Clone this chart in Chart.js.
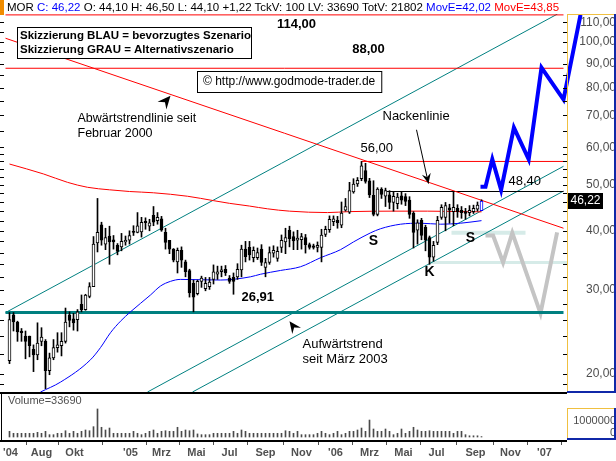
<!DOCTYPE html>
<html>
<head>
<meta charset="utf-8">
<script src="https://cdn.jsdelivr.net/npm/chart.js@4.4.1/dist/chart.umd.min.js"></script>
<style>
  html, body { margin: 0; padding: 0; background: #fff; }
  #wrap { position: relative; width: 616px; height: 461px; overflow: hidden; }
  #c { position: absolute; left: 0; top: 0; }
  #mark { position: absolute; left: 0; top: 0; width: 4px; height: 15px; background: #f08c00; }
  #head { position: absolute; left: 7px; top: 1px; font: 11.5px "Liberation Sans", Arial, sans-serif; white-space: nowrap; color: #000; }
  .b { color: #0000ff; } .r { color: #ff0000; }
</style>
</head>
<body>
<div id="wrap">
  <canvas id="c" width="616" height="461"></canvas>
  <div id="mark"></div>
  <div id="head">MOR <span class="b">C: 46,22</span> O: 44,10 H: 46,50 L: 44,10 +1,22 TckV: 100 LV: 33690 TotV: 21802 <span class="b">MovE=42,02</span> <span class="r">MovE=43,85</span></div>
</div>
<script>
// weekly candles, Jun 2004 .. Sep 2006 (index 0 = first week)
const opens = [21.3, 26.6, 25.7, 24.6, 24.0, 24.0, 22.5, 21.9, 23.4, 23.4,
  20.3, 21.6, 22.7, 22.9, 23.4, 26.6, 26.1, 26.0, 28.0, 27.3,
  29.1, 30.5, 37.7, 41.2, 37.5, 39.0, 38.3, 37.3, 37.0, 37.9,
  38.2, 39.9, 39.7, 39.8, 41.9, 40.9, 43.1, 42.0, 42.4, 39.7,
  38.2, 36.6, 34.4, 36.4, 34.4, 33.0, 31.0, 29.5, 31.3, 30.2,
  30.5, 31.6, 32.4, 32.8, 33.2, 31.8, 31.9, 32.0, 33.1, 36.6,
  36.9, 35.1, 35.1, 36.6, 33.5, 34.3, 35.9, 35.0, 36.9, 37.9,
  40.1, 38.9, 38.2, 38.3, 38.7, 37.4, 37.2, 36.9, 36.9, 39.3,
  40.2, 41.8, 42.1, 41.1, 44.2, 43.8, 48.3, 50.2, 51.5, 53.6,
  51.0, 47.5, 43.3, 49.0, 47.3, 47.6, 45.9, 45.6, 47.4, 47.2,
  46.4, 43.6, 40.1, 42.1, 40.7, 38.7, 35.2, 37.8, 42.7, 42.7,
  44.7, 43.9, 44.6, 44.2, 43.9, 43.7, 43.9, 44.4, 44.1];
const highs = [26.9, 26.9, 25.8, 24.9, 24.6, 24.0, 23.0, 25.6, 25.0, 23.6,
  22.1, 23.6, 24.4, 24.4, 27.5, 27.0, 26.8, 27.3, 29.3, 29.4,
  31.1, 38.9, 46.8, 41.7, 40.5, 40.9, 39.1, 37.6, 39.5, 39.0,
  40.0, 41.0, 43.7, 42.7, 42.6, 42.3, 45.0, 43.7, 42.9, 40.5,
  38.2, 36.7, 36.8, 37.0, 34.7, 33.2, 31.5, 31.5, 32.1, 31.9,
  31.9, 33.9, 33.7, 33.7, 33.8, 32.2, 32.6, 34.1, 37.3, 38.0,
  38.0, 37.0, 36.8, 37.4, 35.0, 37.0, 37.2, 37.0, 39.2, 40.5,
  40.9, 39.8, 40.1, 39.5, 39.3, 37.7, 37.5, 37.9, 40.3, 40.9,
  43.0, 43.0, 42.9, 46.0, 46.8, 50.6, 51.5, 51.8, 56.0, 55.5,
  51.6, 51.0, 49.3, 49.3, 49.2, 48.6, 48.3, 48.0, 48.4, 47.9,
  47.2, 43.9, 42.2, 42.5, 41.1, 39.0, 38.0, 42.9, 45.4, 45.9,
  45.5, 48.4, 45.4, 45.0, 44.6, 45.2, 45.3, 46.0, 46.5];
const lows = [21.0, 24.6, 23.4, 23.4, 21.5, 21.7, 20.2, 21.4, 22.9, 18.6,
  19.9, 21.4, 22.2, 21.8, 23.2, 25.1, 24.7, 24.6, 27.0, 27.2,
  28.9, 30.5, 36.1, 37.3, 36.5, 34.0, 36.6, 35.6, 36.3, 37.3,
  37.5, 39.1, 39.6, 38.8, 40.3, 40.0, 41.0, 41.3, 39.9, 36.6,
  35.8, 34.4, 32.6, 33.5, 32.0, 29.0, 27.0, 29.3, 30.4, 29.9,
  30.1, 30.9, 31.6, 32.0, 32.2, 31.0, 29.4, 31.6, 32.0, 34.4,
  34.7, 34.4, 34.8, 33.8, 32.0, 34.0, 35.2, 34.5, 36.0, 35.8,
  37.0, 36.5, 36.5, 36.6, 35.9, 36.6, 36.6, 36.1, 34.4, 38.9,
  39.7, 41.0, 40.5, 40.6, 44.0, 43.5, 48.0, 49.6, 51.0, 50.4,
  47.0, 43.0, 43.0, 46.8, 45.0, 44.5, 44.0, 44.5, 45.5, 45.2,
  42.5, 36.8, 37.5, 38.3, 36.3, 34.0, 34.5, 37.4, 42.3, 40.0,
  41.5, 41.0, 42.7, 42.5, 42.3, 43.0, 43.5, 44.0, 44.1];
const closes = [26.0, 25.7, 24.5, 24.4, 23.4, 22.9, 21.9, 23.2, 23.9, 20.3,
  21.6, 22.7, 23.0, 23.4, 25.7, 25.9, 25.6, 27.0, 27.3, 29.3,
  30.5, 37.5, 39.7, 38.2, 38.7, 37.9, 37.9, 36.2, 38.0, 38.2,
  39.1, 39.7, 41.0, 41.7, 41.6, 41.6, 41.7, 42.7, 40.1, 37.8,
  36.6, 34.7, 36.4, 34.7, 32.8, 29.6, 29.0, 31.3, 31.8, 31.0,
  31.2, 32.8, 32.8, 33.1, 32.6, 31.3, 31.3, 33.2, 36.6, 35.3,
  35.6, 36.4, 36.0, 34.3, 34.3, 36.0, 36.4, 36.2, 38.2, 38.7,
  38.5, 38.1, 38.6, 38.9, 37.4, 36.9, 36.9, 37.3, 39.2, 40.3,
  42.3, 42.4, 41.6, 43.6, 45.0, 48.6, 50.2, 51.1, 54.8, 50.8,
  47.6, 43.3, 49.0, 47.7, 48.6, 45.9, 47.3, 47.1, 46.4, 46.1,
  43.3, 39.7, 41.6, 39.1, 38.2, 35.2, 37.3, 42.1, 44.8, 45.2,
  44.2, 44.8, 43.9, 43.7, 43.5, 44.2, 44.6, 45.3, 46.22];
// volume in thousands
const volK = [460, 300, 300, 300, 300, 300, 300, 380, 300, 460,
  190, 190, 300, 300, 510, 300, 460, 300, 460, 570,
  510, 840, 2280, 790, 570, 730, 300, 300, 300, 300,
  300, 460, 300, 190, 300, 460, 570, 300, 460, 510,
  460, 460, 790, 460, 570, 510, 570, 250, 190, 190,
  190, 300, 300, 300, 300, 300, 460, 300, 570, 460,
  300, 300, 300, 300, 300, 300, 300, 300, 300, 510,
  460, 300, 460, 190, 190, 190, 190, 300, 460, 300,
  190, 300, 460, 190, 300, 460, 460, 570, 730, 460,
  1380, 650, 460, 460, 650, 460, 190, 300, 650, 300,
  460, 790, 570, 460, 460, 510, 460, 460, 460, 460,
  460, 300, 460, 460, 190, 100, 100, 100, 33.69];

// moving averages (read at points)
const maBlueIdx = [7.75, 12.75, 20.25, 22.75, 25.25, 27.75, 30.25, 35.25, 37.75, 40.25, 42.75, 52.75, 60.25, 62.75, 67.75, 72.75, 77.75, 82.75, 86, 90.25, 92.75, 97.75, 102.75, 107.75, 112.75, 118];
const maBlueVal = [18.3, 19.2, 21.4, 22.7, 24.4, 25.8, 27.0, 29.3, 30.6, 31.3, 31.6, 31.5, 32.0, 32.4, 33.0, 33.6, 35.1, 36.5, 37.9, 39.6, 40.4, 41.3, 41.5, 41.3, 41.5, 42.02];
const maRedIdx = [0, 8.5, 14.5, 19.5, 25, 30, 36, 44.5, 51, 55, 60, 64.5, 70, 79.5, 85, 96, 104.5, 112.75, 118];
const maRedVal = [55.3, 52.7, 50.6, 49.4, 48.8, 48.4, 48.1, 47.3, 46.3, 45.7, 45.1, 44.5, 44.0, 43.7, 43.9, 44.0, 44.0, 43.9, 43.85];

// drawn lines [weekIndex, price]
const downTrend = [[-1, 101.8], [138.5, 40.5]];
const level114 = [[-1, 114], [138.5, 114]];
const level88 = [[-1, 88], [138.5, 88]];
const level56 = [[88, 56], [138.5, 56]];
const neckLine = [[94, 48.4], [138.5, 48.4]];
const support2691 = [[-1, 26.91], [138.5, 26.91]];
const channelA = [[-1, 26.9], [137, 114.5]];
const channelB = [[34.5, 18.3], [138.5, 54.7]];
const channelC = [[45.75, 18.3], [138.5, 48.5]];
const band39 = [[110.5, 39.6], [129, 39.6]];
const band34 = [[105.25, 34.3], [139.4, 34.3]];
const scenarioBlue = [[117.75, 49.5], [119, 49.5], [120.7, 56.6], [122.9, 48.8], [126.1, 66.0], [129.8, 56.6], [133, 88.3], [138.5, 75.6], [142.75, 114]];
const scenarioGray = [[119, 39.1], [120.9, 39.1], [123.4, 34.3], [125.7, 39.6], [132.75, 26.8], [136.9, 39.7]];

// axes
const monthPos = [0.25, 8, 16.25, 30.25, 38, 46.75, 55, 64, 73, 81.5, 90, 98.5, 106.75, 116.5, 125.25, 133.75];
const monthLbl = ["'04", 'Aug', 'Okt', "'05", 'Mrz', 'Mai', 'Jul', 'Sep', 'Nov', "'06", 'Mrz', 'Mai', 'Jul', 'Sep', 'Nov', "'07"];
const priceTicks = [20, 30, 40, 50, 60, 70, 80, 90, 100, 110];
const minorTicks = [19, 20, 22, 24, 26, 28, 30, 32, 34, 36, 38, 40, 42, 44, 46, 48, 50, 52, 54, 56, 58, 60, 65, 70, 75, 80, 85, 90, 95, 100, 105, 110];
const volTicks = [0, 1000];
const lastClose = 46.22;

const X_MIN = -1.375, X_MAX = 139.375;
const Y_MIN = 18.3, Y_MAX = 114.5;
const FONT = '"Liberation Sans", Arial, sans-serif';

// annotations in [weekIndex, price]
const notes = [
  { t: '114,00', i: 71.75, v: 108.6, f: 'bold 13px', a: 'center' },
  { t: '88,00', i: 89.75, v: 96.6, f: 'bold 13px', a: 'center' },
  { t: 'Abwärtstrendlinie seit', i: 17, v: 68.9, f: '12.5px', a: 'left' },
  { t: 'Februar 2000', i: 17, v: 64.0, f: '12.5px', a: 'left' },
  { t: 'Nackenlinie', i: 93.25, v: 69.5, f: '13px', a: 'left' },
  { t: '56,00', i: 87.75, v: 59.6, f: '13px', a: 'left' },
  { t: '48,40', i: 124.75, v: 50.8, f: '13px', a: 'left' },
  { t: 'S', i: 91, v: 38.0, f: 'bold 14px', a: 'center' },
  { t: 'S', i: 115.25, v: 38.6, f: 'bold 14px', a: 'center' },
  { t: 'K', i: 105, v: 32.7, f: 'bold 14px', a: 'center' },
  { t: '26,91', i: 58, v: 29.0, f: 'bold 13px', a: 'left' },
  { t: 'Aufwärtstrend', i: 73.25, v: 23.0, f: '13px', a: 'left' },
  { t: 'seit März 2003', i: 73.25, v: 21.4, f: '13px', a: 'left' }
];

Chart.defaults.font.family = FONT;

const seg = (pts, color, width, order, extra = {}) => Object.assign({
  type: 'line', yAxisID: 'y',
  data: pts.map(([x, y]) => ({ x, y })),
  borderColor: color, borderWidth: width,
  pointRadius: 0, tension: 0, fill: false, order
}, extra);

const wicks = opens.map((o, k) => ({ x: k, y: [lows[k], highs[k]] }));
const bodies = opens.map((o, k) => ({ x: k, y: [Math.min(o, closes[k]), Math.max(o, closes[k])] }));
const bodyFill = opens.map((o, k) => closes[k] >= o ? '#ffffff' : '#000000');
const bodyLine = opens.map((o, k) => k === opens.length - 1 ? '#0000ff' : '#000000');
const vols = volK.map((v, k) => ({ x: k, y: v }));

function dart(ctx, x0, y0, x1, y1, len) {
  const ang = Math.atan2(y1 - y0, x1 - x0);
  ctx.save();
  ctx.translate(x1, y1);
  ctx.rotate(ang);
  ctx.beginPath();
  ctx.moveTo(0, 0);
  ctx.lineTo(-len, -len * 0.45);
  ctx.lineTo(-len * 0.65, 0);
  ctx.lineTo(-len, len * 0.45);
  ctx.closePath();
  ctx.fill();
  ctx.restore();
}

function bevel(ctx, l, t, r, b) {
  ctx.fillStyle = '#f0c040';
  ctx.fillRect(l, t, r - l, 1);
  ctx.fillRect(l, t, 1, b - t);
  ctx.fillStyle = '#1028a8';
  ctx.fillRect(r - 2, t, 2, b - t);
  ctx.fillRect(l, b - 2, r - l, 2);
}

const decor = {
  id: 'decor',
  afterDraw(chart) {
    const { ctx, scales: { x, y, yv } } = chart;
    const P = (i, v) => [x.getPixelForValue(i), y.getPixelForValue(v)];
    ctx.save();

    // small tick marks at both edges of the price panel
    ctx.strokeStyle = '#000';
    ctx.lineWidth = 1;
    ctx.beginPath();
    minorTicks.forEach(v => {
      const yy = Math.round(y.getPixelForValue(v)) + 0.5;
      ctx.moveTo(0, yy); ctx.lineTo(4, yy);
      ctx.moveTo(x.right - 4, yy); ctx.lineTo(x.right, yy);
    });
    ctx.stroke();

    // panel frames
    ctx.fillStyle = '#000';
    ctx.fillRect(0, y.bottom, x.right, 2);
    ctx.fillRect(0, yv.bottom - 1, x.right, 2);
    ctx.fillRect(1, y.bottom, 1, yv.bottom - y.bottom);
    bevel(ctx, x.right, y.top, chart.width, y.bottom + 1);
    bevel(ctx, x.right, yv.top + 16, chart.width, yv.bottom - 1);

    // last price box
    const ly = Math.round(y.getPixelForValue(lastClose));
    ctx.fillStyle = '#000';
    ctx.fillRect(x.right + 1, ly - 8, 35, 16);
    ctx.fillStyle = '#fff';
    ctx.font = '12px ' + FONT;
    ctx.textAlign = 'center';
    ctx.textBaseline = 'middle';
    ctx.fillText(lastClose.toFixed(2).replace('.', ','), x.right + 18.5, ly);

    // volume caption
    ctx.fillStyle = '#505050';
    ctx.font = '11px ' + FONT;
    ctx.textAlign = 'left';
    ctx.fillText('Volume=33690', 8, yv.top + 9);

    // text notes
    ctx.fillStyle = '#000';
    notes.forEach(n => {
      const [px, py] = P(n.i, n.v);
      ctx.font = n.f + ' ' + FONT;
      ctx.textAlign = n.a;
      ctx.fillText(n.t, px, py);
    });

    // arrows
    let a = P(37.25, 72.0), b = P(40.25, 77.0);
    dart(ctx, a[0], a[1], b[0], b[1], 13);
    a = P(72.75, 24.0); b = P(70, 25.8);
    dart(ctx, a[0], a[1], b[0], b[1], 12);
    a = P(101.75, 65.3); b = P(104.75, 50.3);
    ctx.beginPath();
    ctx.moveTo(a[0], a[1]); ctx.lineTo(b[0], b[1]);
    ctx.stroke();
    dart(ctx, a[0], a[1], b[0], b[1], 10);

    // boxed notes
    ctx.textAlign = 'left';
    ctx.font = 'bold 11.5px ' + FONT;
    ctx.fillStyle = '#fff';
    ctx.fillRect(17, 27, 234, 31);
    ctx.strokeRect(17.5, 27.5, 234, 31);
    ctx.fillStyle = '#000';
    ctx.fillText('Skizzierung BLAU = bevorzugtes Szenario', 20, 36);
    ctx.fillText('Skizzierung GRAU = Alternativszenario', 20, 50);

    ctx.font = '12px ' + FONT;
    const cr = '\u00a9 http://www.godmode-trader.de';
    const w = ctx.measureText(cr).width;
    ctx.fillStyle = '#fff';
    ctx.fillRect(197, 71, w + 12, 21);
    ctx.strokeRect(197.5, 71.5, w + 12, 21);
    ctx.fillStyle = '#000';
    ctx.fillText(cr, 203, 82);
    ctx.restore();
  }
};

new Chart(document.getElementById('c'), {
  type: 'bar',
  data: {
    datasets: [
      seg(band39, '#d6ebe8', 4, 20),
      seg(band34, '#d6ebe8', 3, 20),
      seg(scenarioGray, '#c4c4c4', 4, 19),
      seg(support2691, '#008080', 3, 18),
      seg(channelA, '#008080', 1, 17),
      seg(channelB, '#008080', 1, 17),
      seg(channelC, '#008080', 1, 17),
      seg(downTrend, '#ff0000', 1, 16),
      seg(level114, '#ff0000', 1, 16),
      seg(level88, '#ff0000', 1, 16),
      seg(level56, '#ff0000', 1, 16),
      seg(neckLine, '#000000', 1, 16),
      seg(maRedIdx.map((v, k) => [v, maRedVal[k]]), '#ff0000', 1, 15, { cubicInterpolationMode: 'monotone' }),
      seg(maBlueIdx.map((v, k) => [v, maBlueVal[k]]), '#0000ff', 1, 15, { cubicInterpolationMode: 'monotone' }),
      { type: 'bar', yAxisID: 'yv', data: vols, backgroundColor: '#4a4a4a', barThickness: 1, grouped: false, order: 14 },
      { type: 'bar', yAxisID: 'y', data: wicks, backgroundColor: '#000', barThickness: 1, grouped: false, order: 13 },
      { type: 'bar', yAxisID: 'y', data: bodies, backgroundColor: bodyFill, borderColor: bodyLine, borderWidth: 1,
        borderSkipped: false, barThickness: 3, grouped: false, minBarLength: 1, order: 12 },
      seg(scenarioBlue, '#0000ff', 4, 1, { clip: false })
    ]
  },
  options: {
    responsive: false,
    animation: false,
    devicePixelRatio: 1,
    layout: { padding: { left: 4, top: 14, right: 0, bottom: 0 } },
    plugins: { legend: { display: false }, tooltip: { enabled: false } },
    scales: {
      x: {
        type: 'linear', min: X_MIN, max: X_MAX, offset: false,
        afterBuildTicks: s => { s.ticks = monthPos.map(v => ({ value: v })); },
        afterFit: s => { s.height = 20; s.paddingLeft = 0; s.paddingRight = 0; },
        ticks: { autoSkip: false, maxRotation: 0, padding: 1, color: '#505050',
          font: { size: 11, weight: 'bold' }, callback: (v, k) => monthLbl[k] },
        grid: { display: true, drawOnChartArea: false, drawTicks: true, tickLength: 4, color: '#505050' },
        border: { display: false }
      },
      y: {
        type: 'logarithmic', position: 'right', stack: 'panels', stackWeight: 378,
        min: Y_MIN, max: Y_MAX,
        afterBuildTicks: s => { s.ticks = priceTicks.map(v => ({ value: v })); },
        afterFit: s => { s.width = 49; s.paddingTop = 0; s.paddingBottom = 0; },
        ticks: { autoSkip: false, crossAlign: 'far', padding: 9, color: '#4d4d4d', font: { size: 12 },
          callback: v => Number(v).toFixed(2).replace('.', ',') },
        grid: { display: false, drawTicks: false },
        border: { display: false }
      },
      yv: {
        type: 'linear', position: 'right', stack: 'panels', stackWeight: 49,
        min: -325, max: 3660,
        afterBuildTicks: s => { s.ticks = volTicks.map(v => ({ value: v })); },
        afterFit: s => { s.width = 49; s.paddingTop = 0; s.paddingBottom = 0; },
        ticks: { autoSkip: false, crossAlign: 'far', padding: 3, labelOffset: -4, color: '#4d4d4d', font: { size: 11 },
          callback: v => String(v * 1000) },
        grid: { display: false, drawTicks: false },
        border: { display: false }
      }
    }
  },
  plugins: [decor]
});
</script>
</body>
</html>
